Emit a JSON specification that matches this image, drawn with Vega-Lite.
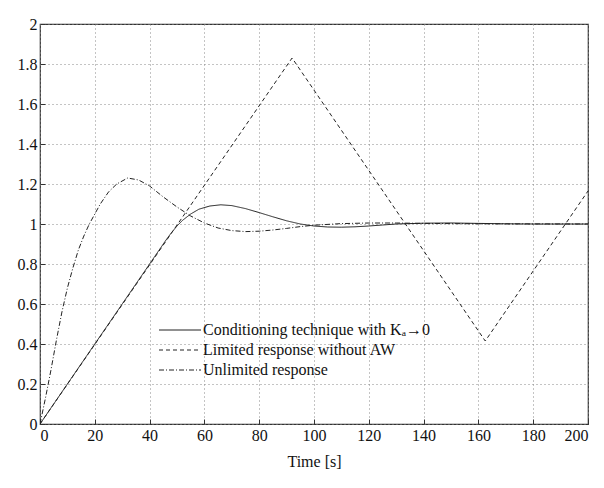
{
  "$schema": "https://vega.github.io/schema/vega-lite/v6.json",
  "autosize": {"type": "none"},
  "padding": {"left": 40, "top": 24, "right": 16, "bottom": 64},
  "width": 548,
  "height": 400,
  "background": "white",
  "config": {
    "font": "Liberation Serif",
    "view": {"stroke": "#333", "strokeWidth": 1.2},
    "axis": {
      "labelFont": "Liberation Serif",
      "labelFontSize": 16,
      "labelColor": "#111",
      "titleFont": "Liberation Serif",
      "titleFontSize": 16,
      "titleFontWeight": "normal",
      "titleColor": "#111",
      "grid": true,
      "gridDash": [1, 3],
      "gridColor": "#888",
      "gridOpacity": 1,
      "domain": false,
      "tickColor": "#333",
      "tickSize": -5
    },
    "legend": {
      "labelFont": "Liberation Serif",
      "labelFontSize": 16,
      "labelColor": "#111",
      "labelLimit": 0
    }
  },
  "data": {
    "values": [
      {"t": 0, "y": 0, "s": "Conditioning technique with Kₐ→0"},
      {"t": 10, "y": 0.2, "s": "Conditioning technique with Kₐ→0"},
      {"t": 20, "y": 0.4, "s": "Conditioning technique with Kₐ→0"},
      {"t": 30, "y": 0.6, "s": "Conditioning technique with Kₐ→0"},
      {"t": 40, "y": 0.8, "s": "Conditioning technique with Kₐ→0"},
      {"t": 46, "y": 0.92, "s": "Conditioning technique with Kₐ→0"},
      {"t": 48, "y": 0.957, "s": "Conditioning technique with Kₐ→0"},
      {"t": 50, "y": 0.99, "s": "Conditioning technique with Kₐ→0"},
      {"t": 52, "y": 1.018, "s": "Conditioning technique with Kₐ→0"},
      {"t": 55, "y": 1.05, "s": "Conditioning technique with Kₐ→0"},
      {"t": 58, "y": 1.074, "s": "Conditioning technique with Kₐ→0"},
      {"t": 62, "y": 1.09, "s": "Conditioning technique with Kₐ→0"},
      {"t": 66, "y": 1.096, "s": "Conditioning technique with Kₐ→0"},
      {"t": 70, "y": 1.092, "s": "Conditioning technique with Kₐ→0"},
      {"t": 75, "y": 1.077, "s": "Conditioning technique with Kₐ→0"},
      {"t": 80, "y": 1.057, "s": "Conditioning technique with Kₐ→0"},
      {"t": 85, "y": 1.036, "s": "Conditioning technique with Kₐ→0"},
      {"t": 90, "y": 1.016, "s": "Conditioning technique with Kₐ→0"},
      {"t": 95, "y": 1.0, "s": "Conditioning technique with Kₐ→0"},
      {"t": 100, "y": 0.99, "s": "Conditioning technique with Kₐ→0"},
      {"t": 105, "y": 0.985, "s": "Conditioning technique with Kₐ→0"},
      {"t": 110, "y": 0.984, "s": "Conditioning technique with Kₐ→0"},
      {"t": 115, "y": 0.986, "s": "Conditioning technique with Kₐ→0"},
      {"t": 120, "y": 0.99, "s": "Conditioning technique with Kₐ→0"},
      {"t": 125, "y": 0.995, "s": "Conditioning technique with Kₐ→0"},
      {"t": 130, "y": 1.0, "s": "Conditioning technique with Kₐ→0"},
      {"t": 140, "y": 1.004, "s": "Conditioning technique with Kₐ→0"},
      {"t": 150, "y": 1.005, "s": "Conditioning technique with Kₐ→0"},
      {"t": 160, "y": 1.003, "s": "Conditioning technique with Kₐ→0"},
      {"t": 170, "y": 1.001, "s": "Conditioning technique with Kₐ→0"},
      {"t": 180, "y": 1.0, "s": "Conditioning technique with Kₐ→0"},
      {"t": 200, "y": 1.0, "s": "Conditioning technique with Kₐ→0"},
      {"t": 0, "y": 0, "s": "Limited response without AW"},
      {"t": 92, "y": 1.83, "s": "Limited response without AW"},
      {"t": 162.5, "y": 0.415, "s": "Limited response without AW"},
      {"t": 200, "y": 1.165, "s": "Limited response without AW"},
      {"t": 0, "y": 0, "s": "Unlimited response"},
      {"t": 2, "y": 0.13, "s": "Unlimited response"},
      {"t": 4, "y": 0.27, "s": "Unlimited response"},
      {"t": 6, "y": 0.42, "s": "Unlimited response"},
      {"t": 8, "y": 0.56, "s": "Unlimited response"},
      {"t": 10, "y": 0.68, "s": "Unlimited response"},
      {"t": 12, "y": 0.78, "s": "Unlimited response"},
      {"t": 14, "y": 0.87, "s": "Unlimited response"},
      {"t": 16, "y": 0.94, "s": "Unlimited response"},
      {"t": 18, "y": 1.0, "s": "Unlimited response"},
      {"t": 20, "y": 1.05, "s": "Unlimited response"},
      {"t": 22, "y": 1.1, "s": "Unlimited response"},
      {"t": 25, "y": 1.16, "s": "Unlimited response"},
      {"t": 28, "y": 1.2, "s": "Unlimited response"},
      {"t": 32, "y": 1.23, "s": "Unlimited response"},
      {"t": 36, "y": 1.22, "s": "Unlimited response"},
      {"t": 40, "y": 1.19, "s": "Unlimited response"},
      {"t": 45, "y": 1.135, "s": "Unlimited response"},
      {"t": 50, "y": 1.085, "s": "Unlimited response"},
      {"t": 55, "y": 1.04, "s": "Unlimited response"},
      {"t": 60, "y": 1.005, "s": "Unlimited response"},
      {"t": 65, "y": 0.98, "s": "Unlimited response"},
      {"t": 70, "y": 0.967, "s": "Unlimited response"},
      {"t": 75, "y": 0.962, "s": "Unlimited response"},
      {"t": 80, "y": 0.964, "s": "Unlimited response"},
      {"t": 85, "y": 0.97, "s": "Unlimited response"},
      {"t": 90, "y": 0.978, "s": "Unlimited response"},
      {"t": 95, "y": 0.987, "s": "Unlimited response"},
      {"t": 100, "y": 0.994, "s": "Unlimited response"},
      {"t": 110, "y": 1.002, "s": "Unlimited response"},
      {"t": 120, "y": 1.005, "s": "Unlimited response"},
      {"t": 130, "y": 1.005, "s": "Unlimited response"},
      {"t": 140, "y": 1.003, "s": "Unlimited response"},
      {"t": 160, "y": 1.001, "s": "Unlimited response"},
      {"t": 200, "y": 1.0, "s": "Unlimited response"}
    ]
  },
  "mark": {"type": "line", "color": "#222", "strokeWidth": 1, "clip": true},
  "encoding": {
    "x": {
      "field": "t", "type": "quantitative",
      "scale": {"domain": [0, 200], "nice": false},
      "axis": {"values": [0,20,40,60,80,100,120,140,160,180,200], "title": "Time [s]", "labelPadding": 8, "titlePadding": 10}
    },
    "y": {
      "field": "y", "type": "quantitative",
      "scale": {"domain": [0, 2], "nice": false},
      "axis": {"values": [0,0.2,0.4,0.6,0.8,1,1.2,1.4,1.6,1.8,2], "title": null, "labelPadding": 8, "labelExpr": "datum.value == 0 ? '0' : datum.value == 1 ? '1' : datum.value == 2 ? '2' : format(datum.value, '.1f')"}
    },
    "strokeDash": {
      "field": "s", "type": "nominal",
      "scale": {
        "domain": ["Conditioning technique with Kₐ→0", "Limited response without AW", "Unlimited response"],
        "range": [[1, 0], [4, 3], [5, 2, 1, 2]]
      },
      "legend": {
        "title": null,
        "orient": "none",
        "legendX": 132,
        "legendY": 298,
        "symbolType": "M-3,0H3",
        "symbolSize": 196,
        "symbolFillColor": "transparent",
        "symbolStrokeColor": "#222",
        "symbolStrokeWidth": 1,
        "labelOffset": 15,
        "rowPadding": 4,
        "padding": 0
      }
    }
  }
}
